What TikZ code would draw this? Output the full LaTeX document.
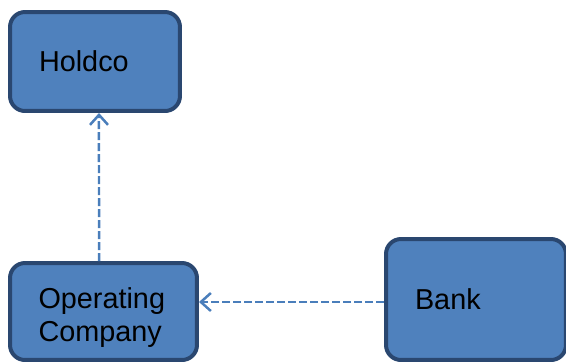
\documentclass[tikz,border=0pt]{standalone}
\usepackage{fontspec}
\setmainfont{Liberation Sans}
\usepackage{xcolor}
\usepackage{tikz}
\usetikzlibrary{arrows.meta}
\definecolor{boxfill}{HTML}{4F81BD}
\definecolor{boxline}{HTML}{2A4770}
\definecolor{linkline}{HTML}{4A7EBB}
\tikzset{
    entity/.style={
    draw=boxline,
    fill=boxfill,
    line width=0.08cm,
    rounded corners=0.3cm,
    inner xsep=0pt,
    align=left,
    font=\fontsize{16.4}{18.6}\selectfont,
  },
  link/.style={
    draw=linkline,
    line width=0.05cm,
    dash pattern=on 0.16cm off 0.06cm,
  }
}

\begin{document}
\begin{tikzpicture}[x=0.02cm,y=-0.02cm]
                    \useasboundingbox (0,0) rectangle (566,363);
                    \begin{scope}[every node/.style={entity}]
                        \node[minimum width=3.4cm, minimum height=1.98cm, text width=2.24cm] (holdco) at (95, 61.5) {Holdco};

                        \node[minimum width=3.74cm, minimum height=1.94cm, text width=2.6cm] (opco) at (103.5, 311.5) {\rule{0pt}{0.65cm}Operating\\Company};
                        \node[minimum width=3.6cm, minimum height=2.42cm, text width=2.44cm] (bank) at (476, 299.5) {Bank};
                    \end{scope}
                    \begin{scope}[>={Straight Barb[linkline,length=0.2cm,width=0.36cm]},every edge/.style={link}]
                        \path [->] ([xshift=-0.09cm]opco.north) edge ([xshift=0.08cm]holdco.south);
                        \path [->] ([yshift=-0.05cm]bank.west) edge ([yshift=-0.05cm]bank.west -| opco.east);
                    \end{scope}
                \end{tikzpicture}
\end{document}
